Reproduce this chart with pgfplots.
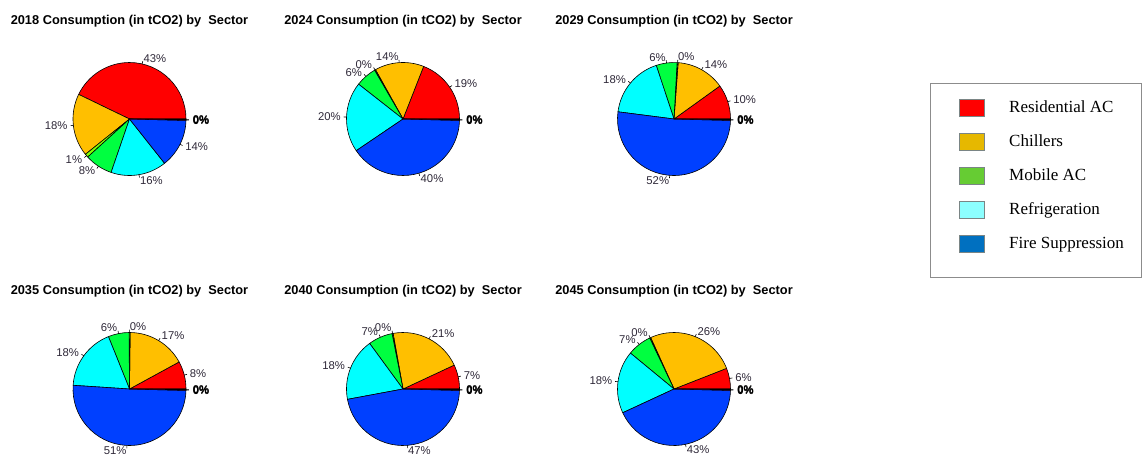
\documentclass[border=0pt]{standalone}
\usepackage{pgfplots}
\pgfplotsset{compat=1.18}
\usepackage{pgfplotstable}
\usepackage{fontspec}
\setmainfont{Liberation Sans}
\newfontfamily\legfont{Liberation Serif}

\definecolor{pA}{HTML}{FF0000}
\definecolor{pB}{HTML}{FFBF00}
\definecolor{pC}{HTML}{80FF00}
\definecolor{pD}{HTML}{00FF40}
\definecolor{pE}{HTML}{00FFFF}
\definecolor{pF}{HTML}{0040FF}
\definecolor{pG}{HTML}{8000FF}
\definecolor{pH}{HTML}{FF00BF}
\definecolor{lgA}{HTML}{FF0000}
\definecolor{lgB}{HTML}{E6B800}
\definecolor{lgC}{HTML}{66CC33}
\definecolor{lgD}{HTML}{8CFFFF}
\definecolor{lgE}{HTML}{0070C0}
\definecolor{sqBorder}{HTML}{7A8585}
\definecolor{boxBorder}{HTML}{8C8C8C}
\definecolor{lblcol}{HTML}{2E2838}

% percentages per sector, counter-clockwise from 3 o'clock
\pgfplotstableread{
pct col
43 pA
18 pB
1 pC
8 pD
16 pE
14 pF
0.2 pG
0.2 pH
}\tabA
\pgfplotstableread{
pct col
19 pA
14 pB
0.3 pC
6 pD
20 pE
40 pF
0.2 pG
0.2 pH
}\tabB
\pgfplotstableread{
pct col
10 pA
14 pB
0.3 pC
6 pD
18 pE
52 pF
0.2 pG
0.2 pH
}\tabC
\pgfplotstableread{
pct col
8 pA
17 pB
0.3 pC
6 pD
18 pE
51 pF
0.2 pG
0.2 pH
}\tabD
\pgfplotstableread{
pct col
7 pA
21 pB
0.3 pC
7 pD
18 pE
47 pF
0.2 pG
0.2 pH
}\tabE
\pgfplotstableread{
pct col
6 pA
26 pB
0.3 pC
7 pD
18 pE
43 pF
0.2 pG
0.2 pH
}\tabF

\newcommand\lblfont{\fontsize{11.3}{13}\selectfont}
\newcommand\titlefont{\fontsize{12.8}{14}\selectfont\bfseries}

\newcommand\drawpie[2]{%
\pgfplotsextra{%
  \pgfplotstablegetrowsof{#1}%
  \pgfmathtruncatemacro\pnr{\pgfplotsretval-1}%
  \gdef\ptot{0}%
  \foreach \i in {0,...,\pnr}{%
    \pgfplotstablegetelem{\i}{pct}\of#1%
    \pgfmathsetmacro\ptmp{\ptot+\pgfplotsretval}\xdef\ptot{\ptmp}}%
  \gdef\psa{0}%
  \foreach \i in {0,...,\pnr}{%
    \pgfplotstablegetelem{\i}{pct}\of#1\let\pval\pgfplotsretval
    \pgfplotstablegetelem{\i}{col}\of#1\let\pcol\pgfplotsretval
    \pgfmathsetmacro\pea{\psa+\pval/\ptot*360}%
    \filldraw[fill=\pcol, draw=black, line width=0.6pt, line join=round]
      (axis cs:0,0) -- ++(\psa:#2pt) arc[start angle=\psa, end angle=\pea, radius=#2pt] -- cycle;
    \xdef\psa{\pea}%
  }%
  \gdef\psa{0}%
  \foreach \i in {0,...,\pnr}{%
    \pgfplotstablegetelem{\i}{pct}\of#1\let\pval\pgfplotsretval
    \pgfmathsetmacro\pea{\psa+\pval/\ptot*360}%
    \pgfmathsetmacro\pma{(\psa+\pea)/2}%
    \pgfmathtruncatemacro\plab{round(\pval)}%
    \pgfmathsetmacro\pcs{cos(\pma)}%
    \ifdim\pcs pt<0pt \def\panc{east}\else\def\panc{west}\fi
    \pgfmathsetmacro\prd{0.05*#2}%
    \pgfmathsetmacro\prb{1.1*#2}%
    \draw[line width=0.6pt] (axis cs:0,0) ++(\pma:#2pt) -- ++(\pma:\prd pt);
    \ifnum\i>5
      \path (axis cs:0,0) ++(\pma:\prb pt) node[anchor=\panc, inner sep=0pt, font=\lblfont\bfseries, text=black, xshift=1pt]{\plab\%};
    \else
      \path (axis cs:0,0) ++(\pma:\prb pt) node[anchor=\panc, inner sep=0pt, font=\lblfont, text=lblcol]{\plab\%};
    \fi
    \xdef\psa{\pea}%
  }%
}}

\pgfplotsset{pieax/.style={anchor=origin, x=1pt, y=1pt,
  xmin=-65, xmax=65, ymin=-65, ymax=65, hide axis, clip=false,
  title style={at={(0.5,1)}, anchor=base, yshift=23pt, font=\titlefont, inner sep=0pt}}}

\begin{document}
\begin{tikzpicture}
\useasboundingbox (0pt,0pt) rectangle (1146pt,-455pt);

\begin{axis}[pieax, at={(129.5pt,-119pt)}, title={2018 Consumption (in tCO2) by\hspace{0.55em}Sector}]
\drawpie{\tabA}{56.5}
\end{axis}

\begin{axis}[pieax, at={(403pt,-119pt)}, title={2024 Consumption (in tCO2) by\hspace{0.55em}Sector}]
\drawpie{\tabB}{56.5}
\end{axis}

\begin{axis}[pieax, at={(674pt,-119pt)}, title={2029 Consumption (in tCO2) by\hspace{0.55em}Sector},
  legend style={at={(2.4692,0.7769)}, anchor=north west, draw=boxBorder, line width=0.8pt,
    inner xsep=17pt, inner ysep=15.5pt, row sep=16.1pt, column sep=24pt,
    font=\legfont\fontsize{17}{19}\selectfont, nodes={inner sep=0pt}},
  legend cell align=left]
\drawpie{\tabC}{56.5}
\addlegendimage{legend image code/.code={\path (-12pt,0pt); \draw[draw=sqBorder, fill=lgA, line width=0.8pt] (0pt,-8.5pt) rectangle (25pt,8.5pt);}}
\addlegendentry{Residential AC}
\addlegendimage{legend image code/.code={\path (-12pt,0pt); \draw[draw=sqBorder, fill=lgB, line width=0.8pt] (0pt,-8.5pt) rectangle (25pt,8.5pt);}}
\addlegendentry{Chillers}
\addlegendimage{legend image code/.code={\path (-12pt,0pt); \draw[draw=sqBorder, fill=lgC, line width=0.8pt] (0pt,-8.5pt) rectangle (25pt,8.5pt);}}
\addlegendentry{Mobile AC}
\addlegendimage{legend image code/.code={\path (-12pt,0pt); \draw[draw=sqBorder, fill=lgD, line width=0.8pt] (0pt,-8.5pt) rectangle (25pt,8.5pt);}}
\addlegendentry{Refrigeration}
\addlegendimage{legend image code/.code={\path (-12pt,0pt) (0pt,-18.5pt); \draw[draw=sqBorder, fill=lgE, line width=0.8pt] (0pt,-8.5pt) rectangle (25pt,8.5pt);}}
\addlegendentry{Fire Suppression}
\end{axis}

\begin{axis}[pieax, at={(129.5pt,-389pt)}, title={2035 Consumption (in tCO2) by\hspace{0.55em}Sector}]
\drawpie{\tabD}{56.5}
\end{axis}

\begin{axis}[pieax, at={(403pt,-389pt)}, title={2040 Consumption (in tCO2) by\hspace{0.55em}Sector}]
\drawpie{\tabE}{56.5}
\end{axis}

\begin{axis}[pieax, at={(674pt,-389pt)}, title={2045 Consumption (in tCO2) by\hspace{0.55em}Sector}]
\drawpie{\tabF}{56.5}
\end{axis}
\end{tikzpicture}
\end{document}
